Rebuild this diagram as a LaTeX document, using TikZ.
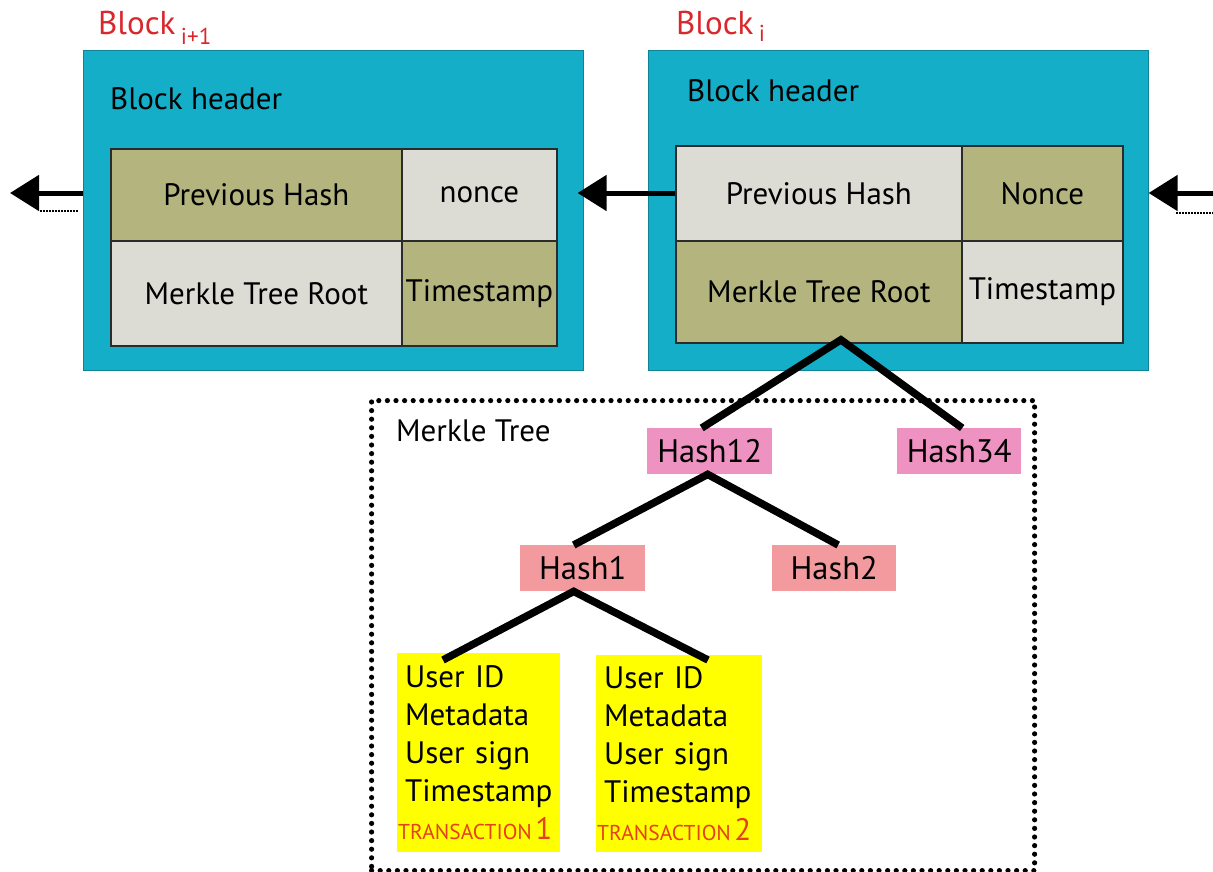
\documentclass[tikz,border=0pt]{standalone}
\usepackage{fontspec}
\setmainfont{PT Sans}
\usetikzlibrary{arrows.meta,calc}
\definecolor{blockcyan}{HTML}{14AEC8}
\definecolor{olivecell}{HTML}{B3B47E}
\definecolor{graycell}{HTML}{DCDCD5}
\definecolor{hashpink}{HTML}{EE93C1}
\definecolor{leafpink}{HTML}{F29A9E}
\definecolor{txyellow}{HTML}{FFFF00}
\definecolor{labelred}{HTML}{D9282D}
\definecolor{txred}{HTML}{E4411E}
\definecolor{celledge}{HTML}{2B2B2B}
\newcommand{\txlabel}[1]{\hspace*{-7pt}\mbox{\color{txred}\fontsize{21.5}{24}\selectfont TRANSACTION\,{\fontsize{31}{24}\selectfont #1}}}
\begin{document}
\begin{tikzpicture}[x=1pt,y=-1pt,
  big/.style={font=\fontsize{31}{38}\selectfont},
  blockbox/.style={fill=blockcyan, draw=blockcyan!75!black, line width=0.6pt,
    anchor=north west, inner sep=0pt},
  cell/.style={draw=celledge, line width=1.8pt, anchor=north west, inner sep=0pt, big},
  olive/.style={cell, fill=olivecell},
  gray/.style={cell, fill=graycell},
  hashbox/.style={anchor=north west, inner sep=0pt, font=\fontsize{32.5}{38}\selectfont,
    minimum width=125, minimum height=46},
  txbox/.style={fill=txyellow, anchor=north west, inner xsep=8pt, inner ysep=0pt,
    big, align=left, minimum height=199},
  redlabel/.style={anchor=base west, inner sep=0pt, text=labelred,
    font=\fontsize{33}{36}\selectfont},
  plain/.style={anchor=base west, inner sep=0pt, big},
  chain/.style={line width=5pt, -{Triangle[length=29pt,width=35pt]}},
  trail/.style={line width=1.6pt, dash pattern=on 1.6pt off 1.4pt},
  branch/.style={line width=7.5pt},
  treeframe/.style={draw, line width=5.2pt, dash pattern=on 0pt off 8.6pt,
    line cap=round, anchor=north west, inner sep=0pt}
]
\path[use as bounding box] (0,0) rectangle (1213,872);

% ---------- block i+1 ----------
\node[blockbox, minimum width=500, minimum height=320] (leftblk) at (83,50) {};
\node[redlabel] (lbllabel) at (98,35) {Block\,{\fontsize{23}{24}\selectfont\raisebox{-10pt}{i+1}}};
\node[plain] (lhead) at (110,110) {Block header};
\node[olive, minimum width=291, minimum height=92]  (prevL)  at (110,148) {Previous Hash};
\node[gray,  minimum width=155, minimum height=92]  (nonceL) at (401,148) {nonce};
\node[gray,  minimum width=291, minimum height=105] (merkL)  at (110,240) {Merkle Tree Root};
\node[olive, minimum width=155, minimum height=105] (timeL)  at (401,240) {Timestamp};

% ---------- block i ----------
\node[blockbox, minimum width=500, minimum height=320] (rightblk) at (648,50) {};
\node[redlabel] (rbllabel) at (676,35) {Block\,{\fontsize{23}{24}\selectfont\raisebox{-7pt}{i}}};
\node[plain] (rhead) at (687,102) {Block header};
\node[gray,  minimum width=286, minimum height=95]  (prevR)  at (675,145) {Previous Hash};
\node[olive, minimum width=161, minimum height=95]  (nonceR) at (961,145) {Nonce};
\node[olive, minimum width=286, minimum height=102] (merkR)  at (675,240) {Merkle Tree Root};
\node[gray,  minimum width=161, minimum height=102] (timeR)  at (961,240) {Timestamp};

% ---------- chain links ----------
\coordinate (leftend) at (10,193);
\coordinate (rightstart) at (1213,193);
\draw[chain] (leftblk.west |- leftend) -- (leftend);
\draw[trail] (40,211) -- (78,211);
\draw[chain] (prevR.west |- leftend) -- ($(leftblk.east |- leftend)+(-6,0)$);
\draw[chain] (rightstart) -- (rightblk.east |- rightstart);
\draw[trail] (1176,213) -- (1213,213);

% ---------- Merkle tree ----------
\node[treeframe, minimum width=663, minimum height=470] (mtree) at (369,398) {};
\node[plain] (mtlabel) at (396,441) {Merkle Tree};

\node[hashbox, fill=hashpink] (hash12) at (647,428) {Hash12};
\node[hashbox, fill=hashpink, minimum width=124] (hash34) at (897,428) {Hash34};
\node[hashbox, fill=leafpink] (hash1) at (520,545) {Hash1};
\node[hashbox, fill=leafpink, minimum width=124] (hash2) at (772,545) {Hash2};

\node[txbox, minimum width=163, text width=147] (tx1) at (397,653)
  {User ID\\Metadata\\User sign\\Timestamp\\\txlabel{1}};
\node[txbox, minimum width=166, text width=150, minimum height=197] (tx2) at (596,655)
  {User ID\\Metadata\\User sign\\Timestamp\\\txlabel{2}};

\coordinate (rootapex) at ($(merkR.south)+(22,-4)$);
\coordinate (h1apex) at ($(hash1.south)+(-9,0)$);
\draw[branch] ($(hash12.north)+(-8,0)$) -- (rootapex) -- ($(hash34.north)+(3,0)$);
\draw[branch] ($(hash1.north)+(-9,0)$) -- ($(hash12.south)+(-2,0)$) -- ($(hash2.north)+(4,0)$);
\draw[branch] ($(tx1.north west)+(46,7)$) -- (h1apex) -- ($(tx2.north west)+(112,5)$);
\end{tikzpicture}
\end{document}
